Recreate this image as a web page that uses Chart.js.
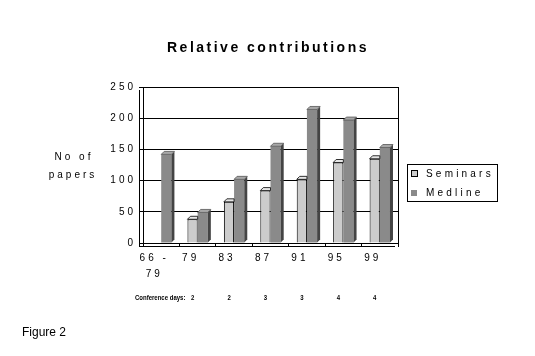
<!DOCTYPE html>
<html><head><meta charset="utf-8">
<script src="https://cdn.jsdelivr.net/npm/chart.js@4"></script>
<style>html,body{margin:0;padding:0;background:#fff}</style>
</head><body>
<canvas id="c" width="535" height="356"></canvas>
<script>
const categories = [['66 -', '79'], '79', '83', '87', '91', '95', '99'];
const seminars = [0, 38, 66, 84, 102, 129, 135];
const medline = [142, 49, 102, 155, 214, 197, 153];
const yTicks = [0, 50, 100, 150, 200, 250];
const conferenceDays = ['Conference days:', '2', '2', '3', '3', '4', '4'];
const seriesNames = ['Seminars', 'Medline'];
const chartTitle = 'Relative contributions';
const yLabel = ['No of', 'papers'];
const figureLabel = 'Figure 2';

const FONT = 'Arial, "Liberation Sans", sans-serif';

function spacedText(ctx, txt, x, y, font, spacing, align) {
  ctx.save();
  ctx.letterSpacing = spacing + 'px';
  ctx.font = font;
  ctx.fillStyle = '#000';
  ctx.textBaseline = 'middle';
  ctx.textAlign = align || 'left';
  ctx.fillText(txt, x, y);
  ctx.restore();
}

const spacingPlugin = {
  id: 'spacing',
  beforeLayout(chart) { chart.ctx.letterSpacing = '3px'; },
  beforeDraw(chart) {
    const ctx = chart.ctx;
    ctx.save();
    ctx.letterSpacing = '0px';
    ctx.fillStyle = '#fff';
    ctx.fillRect(0, 0, chart.width, chart.height);
    ctx.restore();
    ctx.letterSpacing = '3px';
  }
};

const depthPlugin = {
  id: 'depth',
  afterDatasetDraw(chart, args) {
    const meta = args.meta;
    const ds = chart.data.datasets[args.index];
    const ctx = chart.ctx;
    const dx = 3, dy = 3;
    meta.data.forEach((bar, i) => {
      if (!ds.data[i]) return;
      const p = bar.getProps(['x', 'y', 'base', 'width'], true);
      const l = p.x - p.width / 2, r = p.x + p.width / 2;
      const y = p.y, base = p.base;
      ctx.save();
      if (ds.drawSide) {
        ctx.fillStyle = ds.sideColor;
        ctx.beginPath();
        ctx.moveTo(r, y); ctx.lineTo(r + dx, y - dy); ctx.lineTo(r + dx, base - dy); ctx.lineTo(r, base);
        ctx.closePath(); ctx.fill();
      }
      const tr = ds.drawSide ? r + dx : r;
      ctx.fillStyle = ds.topColor;
      ctx.beginPath();
      ctx.moveTo(l, y); ctx.lineTo(l + dx, y - dy); ctx.lineTo(tr, y - dy); ctx.lineTo(r, y);
      ctx.closePath(); ctx.fill();
      ctx.strokeStyle = ds.edgeColor; ctx.lineWidth = 0.8; ctx.stroke();
      ctx.restore();
    });
  }
};

const decorPlugin = {
  id: 'decor',
  afterDraw(chart) {
    const ctx = chart.ctx;
    const a = chart.chartArea;
    ctx.save();
    ctx.letterSpacing = '0px';
    ctx.strokeStyle = '#000';
    ctx.lineWidth = 1;
    ctx.beginPath();
    ctx.moveTo(Math.round(a.right) + 0.5, a.top);
    ctx.lineTo(Math.round(a.right) + 0.5, a.bottom);
    ctx.moveTo(Math.round(a.left) - 3.5, a.top + 3);
    ctx.lineTo(Math.round(a.left) - 3.5, a.bottom + 3);
    ctx.moveTo(a.left - 4, a.bottom + 3.5);
    ctx.lineTo(a.right - 3, a.bottom + 3.5);
    ctx.stroke();
    ctx.restore();

    spacedText(ctx, chartTitle, 268, 48, 'bold 14px ' + FONT, 2.5, 'center');
    spacedText(ctx, yLabel[0], 74, 157, '10px ' + FONT, 3, 'center');
    spacedText(ctx, yLabel[1], 73, 175, '10px ' + FONT, 3, 'center');
    spacedText(ctx, figureLabel, 22, 333, '12px ' + FONT, 0, 'left');

    const xs = chart.scales.x;
    conferenceDays.forEach((t, i) => {
      const px = xs.getPixelForValue(i) + (i === 0 ? -1 : -5);
      ctx.save();
      ctx.translate(px, 298);
      ctx.scale(0.8, 1);
      spacedText(ctx, t, 0, 0, 'bold 7.5px ' + FONT, 0, 'center');
      ctx.restore();
    });

    ctx.save();
    ctx.letterSpacing = '0px';
    ctx.strokeStyle = '#000';
    ctx.lineWidth = 1;
    ctx.strokeRect(407.5, 164.5, 90, 37);
    chart.data.datasets.forEach((ds, i) => {
      const cy = 174 + i * 19;
      ctx.fillStyle = ds.backgroundColor;
      ctx.fillRect(411, cy - 3, 6, 6);
      if (i === 0) { ctx.strokeRect(411.5, cy - 3.5, 6, 6); }
      spacedText(ctx, ds.label, 426, cy, '10px ' + FONT, 3.2, 'left');
    });
    ctx.restore();
  }
};

new Chart(document.getElementById('c'), {
  type: 'bar',
  data: {
    labels: categories,
    datasets: [
      { label: seriesNames[0], data: seminars, backgroundColor: '#cccccc', borderColor: '#000', borderWidth: 1,
        sideColor: '#8c8c8c', topColor: '#e6e6e6', edgeColor: '#000', drawSide: false },
      { label: seriesNames[1], data: medline, backgroundColor: '#8a8a8a', borderColor: '#6a6a6a', borderWidth: 0,
        sideColor: '#444444', topColor: '#a8a8a8', edgeColor: '#555', drawSide: true }
    ]
  },
  options: {
    responsive: false,
    animation: false,
    events: [],
    layout: { padding: { left: 100, top: 87, right: 137, bottom: 68 } },
    plugins: { legend: { display: false }, title: { display: false }, tooltip: { enabled: false } },
    datasets: { bar: { categoryPercentage: 0.56, barPercentage: 1 } },
    scales: {
      x: {
        afterFit(s) { s.height = 45; },
        grid: { drawOnChartArea: false, drawTicks: true, tickLength: 4, color: '#000' },
        border: { color: '#000' },
        ticks: { color: '#000', font: { family: FONT, size: 10, lineHeight: 1.6 }, padding: 3, labelOffset: -7, maxRotation: 0, autoSkip: false }
      },
      y: {
        min: 0, max: 250,
        afterFit(s) { s.width = 43; },
        afterBuildTicks(s) { s.ticks = yTicks.map(v => ({ value: v })); },
        grid: { color: '#000', tickLength: 4 },
        border: { color: '#000' },
        ticks: { color: '#000', font: { family: FONT, size: 10 }, padding: 3 }
      }
    }
  },
  plugins: [spacingPlugin, depthPlugin, decorPlugin]
});
</script>
</body></html>
